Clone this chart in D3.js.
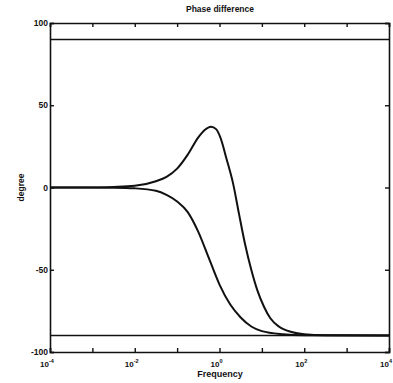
<!DOCTYPE html>
<html>
<head>
<meta charset="utf-8">
<script src="https://cdn.jsdelivr.net/npm/d3@7"></script>
<style>
  body { margin: 0; background: #fff; }
  text { font-family: "Liberation Sans", Arial, sans-serif; fill: #111; }
</style>
</head>
<body>
<div id="chart"></div>
<script>
// values (frequency on a log axis, phase in degrees)
var freqA  = [1e-4, 1e-3, 0.00316, 0.01, 0.0316, 0.0562, 0.1, 0.178, 0.316, 0.447, 0.631, 0.832, 1.047, 1.479, 2.089, 2.884, 3.981, 5.623, 7.943, 11.22, 15.85, 25.12, 50.12, 100, 316.2, 1e4];
var phaseA = [0, 0, 0.3, 1, 3.8, 6.5, 11.5, 20, 30.5, 35, 37, 35.5, 30.5, 17, 2.5, -16, -34, -50, -63, -72.5, -79.5, -84.5, -87.8, -89.2, -89.8, -90];

var freqB  = [1e-4, 1e-3, 0.00316, 0.01, 0.0316, 0.0562, 0.1, 0.178, 0.316, 0.562, 1, 1.778, 3.162, 5.623, 10, 31.62, 100, 1e4];
var phaseB = [0, 0, -0.1, -0.5, -2, -4.5, -8.5, -15, -27, -43, -59, -71, -79, -84.5, -87.3, -89.2, -89.8, -90];

var refLevels = [90, -90];

var xTicks = [1e-4, 1e-3, 1e-2, 1e-1, 1, 10, 100, 1e3, 1e4];
var xLabelExp = [-4, -2, 0, 2, 4];
var yTicks = [-100, -50, 0, 50, 100];

var titleText = 'Phase difference';
var xTitle = 'Frequency';
var yTitle = 'degree';

var width = 393, height = 383;
var margin = {left: 50, right: 4, top: 23, bottom: 31};

var x = d3.scaleLog().domain([1e-4, 1e4]).range([margin.left, width - margin.right]);
var y = d3.scaleLinear().domain([-100, 100]).range([height - margin.bottom, margin.top]);

var svg = d3.select('#chart').append('svg')
            .attr('width', width)
            .attr('height', height);

var line = d3.line()
             .x(function(d){ return x(d[0]); })
             .y(function(d){ return y(d[1]); })
             .curve(d3.curveMonotoneX);

// reference levels at +/-90
svg.selectAll('.ref').data(refLevels)
  .enter().append('line')
  .attr('class', 'ref')
  .attr('x1', x(1e-4)).attr('x2', x(1e4))
  .attr('y1', function(d){ return y(d); })
  .attr('y2', function(d){ return y(d); })
  .attr('stroke', '#111')
  .attr('stroke-width', 1.6);

var seriesA = d3.zip(freqA, phaseA);
var seriesB = d3.zip(freqB, phaseB);

svg.selectAll('.curve').data([seriesA, seriesB])
  .enter().append('path')
  .attr('class', 'curve')
  .attr('d', line)
  .attr('fill', 'none')
  .attr('stroke', '#111')
  .attr('stroke-width', 2);

// box axes, ticks inward on every side
var axBottom = d3.axisBottom(x).tickValues(xTicks).tickSize(-4).tickFormat('');
var axTop = d3.axisTop(x).tickValues(xTicks).tickSize(-4).tickFormat('');
var axLeft = d3.axisLeft(y).tickValues(yTicks).tickSize(-4).tickFormat('');
var axRight = d3.axisRight(y).tickValues(yTicks).tickSize(-4).tickFormat('');

svg.append('g').attr('transform', 'translate(0,' + y(-100) + ')').call(axBottom);
svg.append('g').attr('transform', 'translate(0,' + y(100) + ')').call(axTop);
svg.append('g').attr('transform', 'translate(' + x(1e-4) + ',0)').call(axLeft);
svg.append('g').attr('transform', 'translate(' + x(1e4) + ',0)').call(axRight);

svg.selectAll('.domain').attr('stroke', '#111').attr('stroke-width', 1.6);
svg.selectAll('.tick line').attr('stroke', '#111').attr('stroke-width', 1.4);

// y tick labels
svg.selectAll('.ylab').data(yTicks)
  .enter().append('text')
  .attr('class', 'ylab')
  .attr('x', x(1e-4) - 2)
  .attr('y', function(d){ return y(d) + 3; })
  .attr('text-anchor', 'end')
  .attr('font-size', 8.5)
  .attr('font-weight', 'bold')
  .text(function(d){ return d; });

// x tick labels as 10 with exponent
var xl = svg.selectAll('.xlab').data(xLabelExp)
  .enter().append('text')
  .attr('class', 'xlab')
  .attr('x', function(d){ return x(Math.pow(10, d)) - 3; })
  .attr('y', height - margin.bottom + 15)
  .attr('text-anchor', 'middle')
  .attr('font-size', 8)
  .attr('font-weight', 'bold');
xl.append('tspan').text('10');
xl.append('tspan')
  .attr('dy', -4)
  .attr('font-size', 5.5)
  .text(function(d){ return d; });

svg.append('text')
  .attr('x', 220).attr('y', 12)
  .attr('text-anchor', 'middle')
  .attr('font-size', 8.5)
  .attr('font-weight', 'bold')
  .text(titleText);

svg.append('text')
  .attr('x', 220).attr('y', height - 6)
  .attr('text-anchor', 'middle')
  .attr('font-size', 9)
  .attr('font-weight', 'bold')
  .text(xTitle);

svg.append('text')
  .attr('transform', 'translate(24,' + y(0) + ') rotate(-90)')
  .attr('text-anchor', 'middle')
  .attr('font-size', 8.5)
  .attr('font-weight', 'bold')
  .text(yTitle);
</script>
</body>
</html>
